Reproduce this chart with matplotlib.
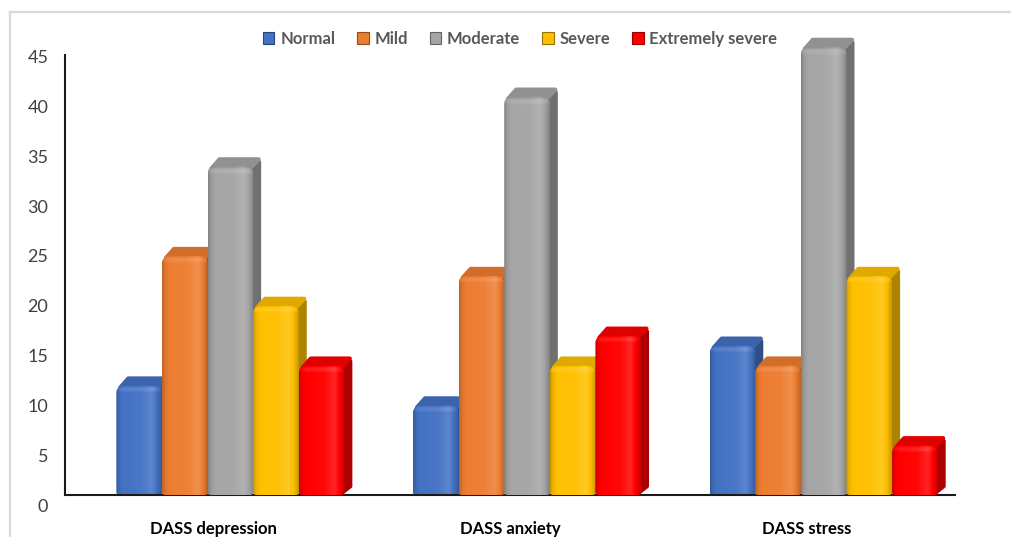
import numpy as np
import matplotlib
matplotlib.use("Agg")
import matplotlib.pyplot as plt
import matplotlib.transforms as mtransforms
from matplotlib.path import Path
from matplotlib.patches import PathPatch, Polygon, Patch
from matplotlib.lines import Line2D

# ---- data -------------------------------------------------------------
categories = ["DASS depression", "DASS anxiety", "DASS stress"]
levels = ["Normal", "Mild", "Moderate", "Severe", "Extremely severe"]
normal = [11, 9, 15]
mild = [24, 22, 13]
moderate = [33, 40, 45]
severe = [19, 13, 22]
extremely_severe = [13, 16, 5]
yticks = [0, 5, 10, 15, 20, 25, 30, 35, 40, 45]

series = [normal, mild, moderate, severe, extremely_severe]
colors = ["#4472C4", "#ED7D31", "#A5A5A5", "#FFC000", "#FF0000"]

# ---- figure / axes geometry ------------------------------------------
W, H = 1012, 537
fig = plt.figure(figsize=(W / 100, H / 100), dpi=100)
fig.patch.set_facecolor("white")

YMAX = 47.0
PX_Y = 9.96                      # pixels per value unit
ax_w_px, ax_h_px = 890, YMAX * PX_Y
ax = fig.add_axes([65 / W, 42 / H, ax_w_px / W, ax_h_px / H])
ax.set_xlim(-0.5, 2.5)
ax.set_ylim(0, YMAX)
PX_X = ax_w_px / 3.0             # pixels per category unit

bar_w = 45.6 / PX_X
group_off = -97.0 / PX_X
depth_dx = 8.0 / PX_X
depth_dy = 8.5 / PX_Y


def shade(c, f):
    rgb = np.array(matplotlib.colors.to_rgb(c))
    if f >= 1:
        return tuple(rgb + (1 - rgb) * (f - 1))
    return tuple(rgb * f)


def rounded_path(x0, y0, x1, y1, r_top_px, r_bot_px):
    k = 0.5523
    rtx, rty = r_top_px / PX_X, r_top_px / PX_Y
    rbx, rby = r_bot_px / PX_X, r_bot_px / PX_Y
    verts = [
        (x0 + rbx, y0),
        (x1 - rbx, y0),
        (x1 - rbx + k * rbx, y0), (x1, y0 + rby - k * rby), (x1, y0 + rby),
        (x1, y1 - rty),
        (x1, y1 - rty + k * rty), (x1 - rtx + k * rtx, y1), (x1 - rtx, y1),
        (x0 + rtx, y1),
        (x0 + rtx - k * rtx, y1), (x0, y1 - rty + k * rty), (x0, y1 - rty),
        (x0, y0 + rby),
        (x0, y0 + rby - k * rby), (x0 + rbx - k * rbx, y0), (x0 + rbx, y0),
        (x0 + rbx, y0),
    ]
    codes = [Path.MOVETO, Path.LINETO,
             Path.CURVE4, Path.CURVE4, Path.CURVE4,
             Path.LINETO,
             Path.CURVE4, Path.CURVE4, Path.CURVE4,
             Path.LINETO,
             Path.CURVE4, Path.CURVE4, Path.CURVE4,
             Path.LINETO,
             Path.CURVE4, Path.CURVE4, Path.CURVE4,
             Path.CLOSEPOLY]
    return Path(verts, codes)


# horizontal light profile across a bar's front face
t_pts = [0.0, 0.06, 0.15, 0.55, 0.78, 0.86, 0.93, 1.0]
f_pts = [0.80, 0.93, 1.00, 1.03, 1.14, 1.04, 0.92, 0.80]
tt = np.linspace(0, 1, 64)
prof = np.interp(tt, t_pts, f_pts)
vv = np.linspace(0, 1, 160)


def front_image(c, value):
    rgb = np.array(matplotlib.colors.to_rgb(c))
    top_px = 7.0
    h_px = max(value * PX_Y, 1)
    v = np.clip((vv * h_px - (h_px - top_px)) / top_px, 0, 1)
    vfac = 1 + 0.12 * np.sin(v * np.pi) - 0.12 * v ** 3
    img = np.empty((len(vv), len(tt), 3))
    for i, vf in enumerate(vfac):
        f = prof * vf
        row = np.where(f[:, None] >= 1,
                       rgb + (1 - rgb) * (f[:, None] - 1),
                       rgb * f[:, None])
        img[i] = np.clip(row, 0, 1)
    return img


px = 1.0 / PX_X
py = 1.0 / PX_Y
for gi in range(len(categories)):
    for si, vals in enumerate(series):
        v = vals[gi]
        c = colors[si]
        x0 = gi + group_off + si * bar_w
        x1 = x0 + bar_w
        z = 2 + si
        # side face
        sc = shade(c, 0.68)
        side = Polygon([(x1 - 3 * px, 1 * py), (x1 + depth_dx - 1.5 * px, depth_dy),
                        (x1 + depth_dx - 1.5 * px, v + depth_dy - 4 * py),
                        (x1 - 3 * px, v - 2 * py)],
                       closed=True, facecolor=sc, edgecolor=sc, lw=2.2,
                       joinstyle="round", zorder=z)
        ax.add_patch(side)
        # top face
        tc = shade(c, 0.88)
        top = Polygon([(x0 + 4 * px, v - 2 * py), (x1 - 3 * px, v - 2 * py),
                       (x1 + depth_dx - 2.5 * px, v + depth_dy - 1.5 * py),
                       (x0 + depth_dx + 4 * px, v + depth_dy - 1.5 * py)],
                      closed=True, facecolor=tc, edgecolor=tc, lw=3.0,
                      joinstyle="round", zorder=z)
        ax.add_patch(top)
        # front face with shading, clipped to a rounded rectangle
        path = rounded_path(x0, 0, x1, v, 7, 3)
        clip = PathPatch(path, transform=ax.transData, facecolor="none",
                         edgecolor="none")
        im = ax.imshow(front_image(c, v), extent=[x0, x1, 0, v],
                       origin="lower", aspect="auto", interpolation="bilinear",
                       zorder=z)
        im.set_clip_path(clip)

ax.set_xlim(-0.5, 2.5)
ax.set_ylim(0, YMAX)

# ---- axes styling -----------------------------------------------------
for s in ["top", "right"]:
    ax.spines[s].set_visible(False)
ax.spines["left"].set_bounds(0, 44.2)
for s in ["left", "bottom"]:
    ax.spines[s].set_color("#1a1a1a")
    ax.spines[s].set_linewidth(1.5)

ax.set_yticks(yticks)
ax.set_yticklabels([str(t) for t in yticks], fontfamily="Lato", fontsize=13,
                   color="#404040")
ax.tick_params(axis="y", length=0, pad=12)
shift = mtransforms.ScaledTranslation(0, -10 / 100, fig.dpi_scale_trans)
for lbl in ax.get_yticklabels():
    lbl.set_transform(lbl.get_transform() + shift)

ax.set_xticks(range(len(categories)))
ax.set_xticklabels(categories, fontfamily="Lato", fontweight="bold",
                   fontsize=12, color="black")
ax.tick_params(axis="x", length=0, pad=19)

# ---- legend -----------------------------------------------------------
handles = [Patch(facecolor=c, edgecolor=shade(c, 0.6), lw=0.8) for c in colors]
fig.legend(handles, levels, loc="center", bbox_to_anchor=(520 / W, 1 - 39 / H),
           ncol=5, frameon=False, handlelength=0.7, handleheight=0.7,
           handletextpad=0.35, columnspacing=1.3,
           prop={"family": "Lato", "weight": "bold", "size": 12},
           labelcolor="#595959")

# ---- outer frame ------------------------------------------------------
frame_c = "#D9D9D9"
fig.add_artist(Line2D([10 / W, 1.0], [1 - 12 / H, 1 - 12 / H],
                      transform=fig.transFigure, color=frame_c, lw=1.6))
fig.add_artist(Line2D([10 / W, 10 / W], [0.0, 1 - 12 / H],
                      transform=fig.transFigure, color=frame_c, lw=1.6))

fig.savefig("out.png", dpi=100, facecolor="white")
